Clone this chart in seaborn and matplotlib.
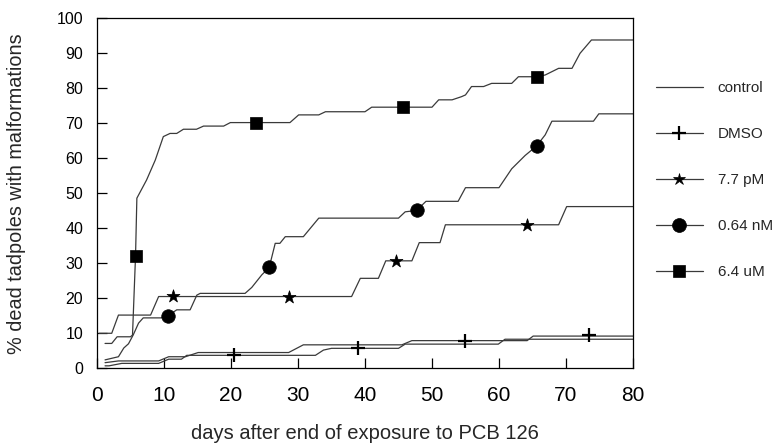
import matplotlib
matplotlib.use("Agg")
import matplotlib.pyplot as plt
from matplotlib.lines import Line2D
import seaborn as sns

# ---- data: % dead tadpoles with malformations vs. days after exposure ----
ctrl_x = [1.2, 3.2, 9.2, 10.7, 13.2, 15.1, 28.6, 30.8, 45.5, 47.0, 64.2, 65.1, 80.0]
ctrl_y = [1.6, 2.1, 2.1, 3.3, 3.3, 4.5, 4.5, 6.7, 6.7, 7.9, 7.9, 9.2, 9.2]

dmso_x = [1.2, 1.8, 3.7, 9.2, 10.7, 12.6, 13.4, 32.6, 33.8, 35.0, 45.0, 46.0, 59.9, 60.9, 80.0]
dmso_y = [0.7, 0.7, 1.4, 1.4, 2.6, 2.6, 3.7, 3.7, 5.2, 5.7, 5.7, 6.9, 6.9, 8.3, 8.3]
dmso_mx = [20.4, 39.0, 55.0, 73.4]
dmso_my = [3.8, 5.7, 7.9, 9.5]

pm77_x = [0.3, 2.2, 3.2, 8.0, 9.2, 38.0, 39.3, 42.0, 43.1, 47.0, 48.1, 51.2, 52.0, 68.9, 70.1, 80.0]
pm77_y = [10.0, 10.0, 15.2, 15.2, 20.5, 20.5, 25.7, 25.7, 30.7, 30.7, 35.9, 35.9, 41.0, 41.0, 46.2, 46.2]
pm77_mx = [11.4, 28.6, 44.7, 64.2]
pm77_my = [20.6, 20.5, 30.6, 41.0]

nm064_x = [1.2, 3.2, 4.0, 4.7, 5.4, 6.2, 6.9, 9.6, 10.6, 11.9, 13.9, 14.9, 15.4, 22.1,
           23.1, 24.6, 25.7, 26.6, 27.3, 28.1, 30.8, 33.1, 45.0, 46.0, 47.7, 49.1,
           53.9, 55.0, 60.0, 61.9, 63.9, 65.6, 66.9, 67.9, 74.1, 74.9, 80.0]
nm064_y = [2.4, 3.3, 5.8, 7.0, 9.5, 12.9, 14.4, 14.4, 15.0, 16.7, 16.7, 20.9, 21.4, 21.4,
           23.1, 26.7, 28.8, 35.7, 35.7, 37.6, 37.6, 42.9, 42.9, 44.7, 45.1, 47.7,
           47.7, 51.6, 51.6, 57.0, 60.8, 63.5, 66.7, 70.6, 70.6, 72.7, 72.7]
nm064_mx = [10.6, 25.7, 47.7, 65.6]
nm064_my = [15.0, 28.8, 45.1, 63.5]

um64_x = [1.2, 2.2, 3.0, 5.0, 5.3, 5.75, 5.95, 7.4, 8.7, 9.9,
          10.9, 11.9, 12.9, 14.85, 15.9, 18.9, 19.9, 28.8, 30.1, 33.1,
          34.1, 40.0, 41.0, 50.0, 51.0, 53.0, 54.4, 55.0, 55.9, 57.7,
          58.9, 61.9, 62.9, 65.6, 66.9, 68.9, 70.9, 72.1, 73.8, 80.0]
um64_y = [7.1, 7.1, 9.0, 9.0, 9.5, 32.0, 48.6, 53.8, 59.5, 66.2,
          67.1, 67.1, 68.3, 68.3, 69.2, 69.2, 70.2, 70.2, 72.4, 72.4,
          73.3, 73.3, 74.6, 74.6, 76.7, 76.7, 77.6, 78.1, 80.5, 80.5,
          81.4, 81.4, 83.3, 83.3, 83.8, 85.7, 85.7, 90.0, 93.8, 93.8]
um64_mx = [5.8, 23.7, 45.6, 65.6]
um64_my = [32.0, 70.2, 74.6, 83.3]

labels = ["control", "DMSO", "7.7 pM", "0.64 nM", "6.4 uM"]
x_ticks = [0, 10, 20, 30, 40, 50, 60, 70, 80]
y_ticks = [0, 10, 20, 30, 40, 50, 60, 70, 80, 90, 100]

# ---- style ----
sns.set_theme(style="ticks")
plt.rcParams["font.family"] = ["Liberation Sans", "DejaVu Sans"]

LINE = "#3a3a3a"
INK = "black"

fig = plt.figure(figsize=(7.76, 4.45), dpi=100)
ax = fig.add_axes([0.125, 0.1724, 0.6907, 0.7865])

series = [
    (ctrl_x, ctrl_y, None, None, None, None),
    (dmso_x, dmso_y, dmso_mx, dmso_my, "+", 95),
    (pm77_x, pm77_y, pm77_mx, pm77_my, "*", 95),
    (nm064_x, nm064_y, nm064_mx, nm064_my, "o", 95),
    (um64_x, um64_y, um64_mx, um64_my, "s", 80),
]

for xs, ys, mx, my, mk, size in series:
    sns.lineplot(x=xs, y=ys, ax=ax, color=LINE, linewidth=0.9,
                 sort=False, estimator=None, legend=False)
    if mx is not None:
        if mk == "+":
            sns.scatterplot(x=mx, y=my, ax=ax, marker=mk, s=size, color=INK,
                            linewidth=1.6, legend=False, zorder=5)
        else:
            sns.scatterplot(x=mx, y=my, ax=ax, marker=mk, s=size, color=INK,
                            edgecolor=INK, linewidth=0.5, legend=False, zorder=5)

ax.set_xlim(0, 80)
ax.set_ylim(0, 100)
ax.set_xticks(x_ticks)
ax.set_yticks(y_ticks)
ax.tick_params(axis="x", direction="in", length=7, width=0.9, pad=12.5,
               labelsize=15, colors=INK)
ax.tick_params(axis="y", direction="in", length=7, width=0.9, pad=10,
               labelsize=11.5, colors=INK)
for side in ["left", "right", "top", "bottom"]:
    ax.spines[side].set_visible(True)
    ax.spines[side].set_color(INK)
    ax.spines[side].set_linewidth(0.9)

ax.set_xlabel("days after end of exposure to PCB 126", fontsize=14.5, labelpad=14)
ax.set_ylabel("% dead tadpoles with malformations", fontsize=14.3, labelpad=22)

# ---- legend outside the plot ----
handle_specs = [(None, 0), ("+", 10), ("*", 9), ("o", 10), ("s", 9)]
handles = []
for mk, ms in handle_specs:
    handles.append(Line2D([0], [0], color=LINE, linewidth=0.9, marker=mk,
                          markersize=ms, markerfacecolor=INK, markeredgecolor=INK,
                          markeredgewidth=1.6 if mk == "+" else 0.5))
leg = fig.legend(handles, labels, loc="upper left", bbox_to_anchor=(0.845, 0.818),
                 frameon=False, fontsize=11, handlelength=3.1, handletextpad=0.95,
                 labelspacing=2.1, borderpad=0, borderaxespad=0)

fig.savefig("out.png", dpi=100)
